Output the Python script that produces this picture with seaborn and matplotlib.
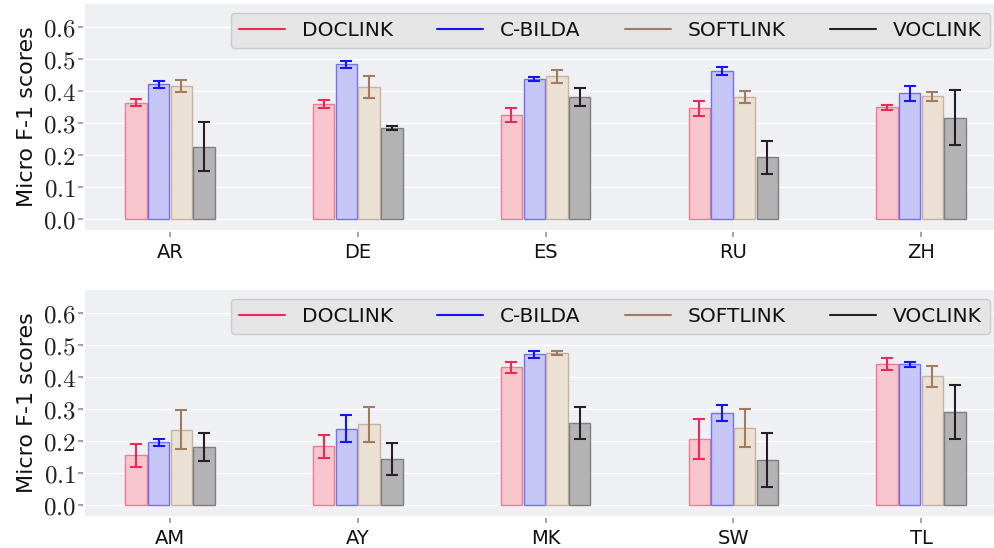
import numpy as np
import pandas as pd
import matplotlib
matplotlib.use("Agg")
import matplotlib.pyplot as plt
from matplotlib.lines import Line2D
from matplotlib.ticker import FuncFormatter
import seaborn as sns

# 数据
models = ["DOCLINK", "C-BILDA", "SOFTLINK", "VOCLINK"]

langs_top = ["AR", "DE", "ES", "RU", "ZH"]
top_doclink = [0.363, 0.360, 0.325, 0.347, 0.349]
top_cbilda = [0.422, 0.484, 0.438, 0.463, 0.394]
top_softlink = [0.416, 0.413, 0.447, 0.382, 0.384]
top_voclink = [0.226, 0.284, 0.381, 0.192, 0.317]
top_doclink_err = [0.011, 0.0115, 0.021, 0.0235, 0.007]
top_cbilda_err = [0.011, 0.011, 0.006, 0.012, 0.0235]
top_softlink_err = [0.018, 0.0335, 0.020, 0.020, 0.015]
top_voclink_err = [0.077, 0.006, 0.028, 0.052, 0.086]

langs_bottom = ["AM", "AY", "MK", "SW", "TL"]
bot_doclink = [0.154, 0.183, 0.431, 0.205, 0.440]
bot_cbilda = [0.195, 0.238, 0.471, 0.287, 0.440]
bot_softlink = [0.235, 0.252, 0.475, 0.240, 0.402]
bot_voclink = [0.180, 0.143, 0.256, 0.140, 0.290]
bot_doclink_err = [0.035, 0.036, 0.017, 0.063, 0.018]
bot_cbilda_err = [0.010, 0.043, 0.0115, 0.025, 0.008]
bot_softlink_err = [0.062, 0.055, 0.007, 0.060, 0.033]
bot_voclink_err = [0.043, 0.049, 0.051, 0.084, 0.086]

# 颜色
line_colors = ["#f0285a", "#1414ff", "#a07c5c", "#2a1c2a"]
fill_colors = ["#f7c6cc", "#c6c6f7", "#ebe0d4", "#b3b3b3"]
edge_colors = ["#f07a90", "#7272f2", "#c9b29c", "#7f7f7f"]

sns.set_theme(style="darkgrid", rc={
    "axes.facecolor": "#eff0f4",
    "grid.color": "white",
    "xtick.bottom": True,
    "ytick.left": True,
    "xtick.color": "#999999",
    "ytick.color": "#999999",
    "xtick.major.size": 4,
    "ytick.major.size": 4,
})
plt.rcParams["font.family"] = ["DejaVu Sans"]
plt.rcParams["mathtext.fontset"] = "cm"


def build_df(langs, vals, errs):
    rows = []
    for m, v, e in zip(models, vals, errs):
        for l, vi, ei in zip(langs, v, e):
            rows.append({"lang": l, "model": m, "score": vi, "err": ei})
    return pd.DataFrame(rows)


df_top = build_df(langs_top,
                  [top_doclink, top_cbilda, top_softlink, top_voclink],
                  [top_doclink_err, top_cbilda_err, top_softlink_err, top_voclink_err])
df_bot = build_df(langs_bottom,
                  [bot_doclink, bot_cbilda, bot_softlink, bot_voclink],
                  [bot_doclink_err, bot_cbilda_err, bot_softlink_err, bot_voclink_err])

fig = plt.figure(figsize=(9.95, 5.48), dpi=100)
ax_top = fig.add_axes([0.0847, 0.579, 0.9153, 0.415])
ax_bot = fig.add_axes([0.0847, 0.0572, 0.9153, 0.4155])


def draw_panel(ax, df):
    sns.barplot(data=df, x="lang", y="score", hue="model", hue_order=models,
                palette=fill_colors, saturation=1, width=0.484, gap=0.06,
                errorbar=None, legend=False, ax=ax)
    bar_containers = list(ax.containers)
    for i, cont in enumerate(bar_containers):
        sub = df[df["model"] == models[i]]
        xs = []
        for bar in cont:
            bar.set_edgecolor(edge_colors[i])
            bar.set_linewidth(1.0)
            xs.append(bar.get_x() + bar.get_width() / 2)
        ax.errorbar(xs, sub["score"].values, yerr=sub["err"].values, fmt="none",
                    ecolor=line_colors[i], elinewidth=1.5, capsize=4, capthick=1.5,
                    zorder=5)
    ax.set_xlim(-0.457, 4.394)
    ax.set_ylim(-0.038, 0.676)
    ax.set_yticks(np.arange(0, 0.61, 0.1))
    ax.yaxis.set_major_formatter(FuncFormatter(lambda v, p: f"${v:.1f}$"))
    ax.tick_params(axis="y", labelsize=18, labelcolor="#222222", pad=2)
    ax.tick_params(axis="x", labelsize=14, labelcolor="#111111", pad=5)
    ax.set_xlabel("")
    ax.set_ylabel("Micro F-1 scores", fontsize=16, color="#111111", labelpad=4)

    handles = [Line2D([0], [0], color=c, lw=1.5) for c in line_colors]
    leg = ax.legend(handles, models, loc="upper right", bbox_to_anchor=(0.9945, 0.956),
                    borderaxespad=0, ncol=4, fontsize=14.5, handlelength=2.27,
                    handletextpad=0.85, columnspacing=2.2, frameon=True,
                    facecolor="#e5e5e5", edgecolor="#cccccc", framealpha=1)
    for t in leg.get_texts():
        t.set_color("#111111")


draw_panel(ax_top, df_top)
draw_panel(ax_bot, df_bot)

fig.savefig("out.png", dpi=100)
